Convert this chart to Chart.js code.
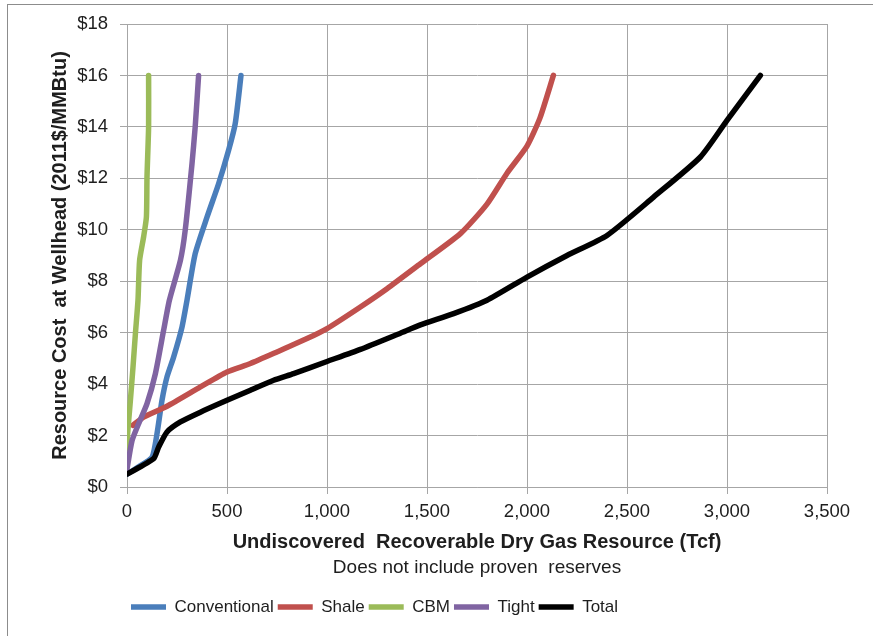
<!DOCTYPE html>
<html>
<head>
<meta charset="utf-8">
<script src="https://cdn.jsdelivr.net/npm/chart.js@4/dist/chart.umd.min.js"></script>
<style>
  html, body { margin: 0; padding: 0; background: #fff; }
  #wrap { position: relative; width: 873px; height: 636px; overflow: hidden; }
  #frame { position: absolute; left: 7px; top: 4px; width: 1000px; height: 1000px; border: 1px solid #8c8c8c; box-sizing: border-box; }
  canvas { position: absolute; left: 0; top: 0; }
</style>
</head>
<body>
<div id="wrap">
  <div id="frame"></div>
  <canvas id="c" width="873" height="636"></canvas>
</div>
<script>
// ---- data (Tcf, $/MMBtu) ----
const seriesNames = ['Conventional', 'Shale', 'CBM', 'Tight', 'Total'];
const seriesColors = ['#4A7EBB', '#C0504D', '#9BBB59', '#8064A2', '#000000'];

const conventionalX = [0, 60, 125, 150, 175, 200, 233, 275, 300, 341, 400, 458, 508, 541, 570];
const conventionalY = [0.5, 0.8, 1.15, 2.07, 3.37, 4.28, 5.05, 6.22, 7.26, 9.07, 10.49, 11.79, 13.09, 14.12, 16];

const shaleX = [30, 83, 200, 367, 500, 617, 750, 900, 1000, 1167, 1300, 1467, 1667, 1800, 1900, 2000, 2065, 2132];
const shaleY = [2.4, 2.72, 3.14, 3.89, 4.47, 4.8, 5.25, 5.77, 6.16, 7.0, 7.71, 8.68, 9.85, 11.0, 12.2, 13.25, 14.35, 16];

const cbmX = [0, 3, 17, 30, 42, 55, 63, 83, 97, 100, 108, 108];
const cbmY = [1.5, 2.07, 3.37, 4.66, 5.96, 7.26, 8.81, 9.72, 10.49, 12.05, 14, 16];

const tightX = [0, 25, 58, 100, 142, 183, 212, 267, 291, 325, 341, 358];
const tightY = [0.7, 1.8, 2.46, 3.24, 4.41, 6.09, 7.26, 8.81, 9.98, 12.57, 14, 16];

const totalX = [0, 133, 158, 200, 267, 367, 500, 617, 733, 833, 1000, 1167, 1367, 1467, 1633, 1800, 2000, 2200, 2400, 2633, 2867, 3000, 3167];
const totalY = [0.5, 1.1, 1.55, 2.14, 2.53, 2.91, 3.37, 3.76, 4.15, 4.41, 4.88, 5.35, 5.98, 6.3, 6.74, 7.26, 8.16, 9.0, 9.78, 11.27, 12.83, 14.25, 16];

const xTickLabels = ['0', '500', '1,000', '1,500', '2,000', '2,500', '3,000', '3,500'];
const yTickLabels = ['$0', '$2', '$4', '$6', '$8', '$10', '$12', '$14', '$16', '$18'];

const xTitle = 'Undiscovered  Recoverable Dry Gas Resource (Tcf)';
const xSubtitle = 'Does not include proven  reserves';
const yTitle = 'Resource Cost  at Wellhead (2011$/MMBtu)';

// ---- build ----
const xs = [conventionalX, shaleX, cbmX, tightX, totalX];
const ys = [conventionalY, shaleY, cbmY, tightY, totalY];
const datasets = seriesNames.map((name, i) => ({
  label: name,
  data: xs[i].map((x, j) => ({ x: x, y: ys[i][j] })),
  borderColor: seriesColors[i],
  backgroundColor: seriesColors[i],
  borderWidth: 5.5,
  pointRadius: 0,
  pointHoverRadius: 0,
  tension: 0.2,
  borderCapStyle: 'round',
  borderJoinStyle: 'round',
  fill: false,
  order: seriesNames.length - i
}));

const gridColor = '#a6a6a6';
const textColor = '#1e1e1e';
const baseFont = "'Liberation Sans', Arial, sans-serif";

new Chart(document.getElementById('c'), {
  type: 'line',
  data: { datasets: datasets },
  options: {
    responsive: false,
    animation: false,
    events: [],
    layout: { padding: { left: 0, right: 46, top: 24, bottom: 10.5 } },
    scales: {
      x: {
        type: 'linear',
        min: 0, max: 3500,
        afterFit: (s) => { s.height = 67; },
        ticks: {
          stepSize: 500,
          padding: 7,
          color: textColor,
          font: { family: baseFont, size: 18.5 },
          maxRotation: 0,
          callback: (v) => xTickLabels[Math.round(v / 500)]
        },
        grid: { color: gridColor, lineWidth: 1, tickLength: 7, drawTicks: true },
        border: { color: gridColor, width: 1 },
        title: {
          display: true,
          text: xTitle,
          color: textColor,
          font: { family: baseFont, size: 20, weight: 'bold' },
          padding: { top: 0, bottom: 0 }
        }
      },
      y: {
        type: 'linear',
        min: 0, max: 18,
        afterFit: (s) => { s.width = 127; },
        ticks: {
          stepSize: 2,
          padding: 12,
          color: textColor,
          font: { family: baseFont, size: 18.5 },
          callback: (v) => yTickLabels[Math.round(v / 2)]
        },
        grid: { color: gridColor, lineWidth: 1, tickLength: 7, drawTicks: true },
        border: { color: gridColor, width: 1 },
        title: {
          display: true,
          text: yTitle,
          color: textColor,
          font: { family: baseFont, size: 20, weight: 'bold' },
          padding: { top: 48, bottom: 0 }
        }
      }
    },
    plugins: {
      tooltip: { enabled: false },
      subtitle: {
        display: true,
        position: 'bottom',
        fullSize: false,
        weight: 500,
        text: xSubtitle,
        color: textColor,
        font: { family: baseFont, size: 19, weight: 'normal' },
        padding: { top: 2.6, bottom: 15.1 }
      },
      legend: {
        display: true,
        position: 'bottom',
        align: 'start',
        fullSize: false,
        weight: 1000,
        labels: {
          usePointStyle: true,
          pointStyle: 'line',
          pointStyleWidth: 35,
          padding: 4,
          color: textColor,
          font: { family: baseFont, size: 17 },
          sort: (a, b) => a.datasetIndex - b.datasetIndex
        }
      }
    }
  }
});
</script>
</body>
</html>
